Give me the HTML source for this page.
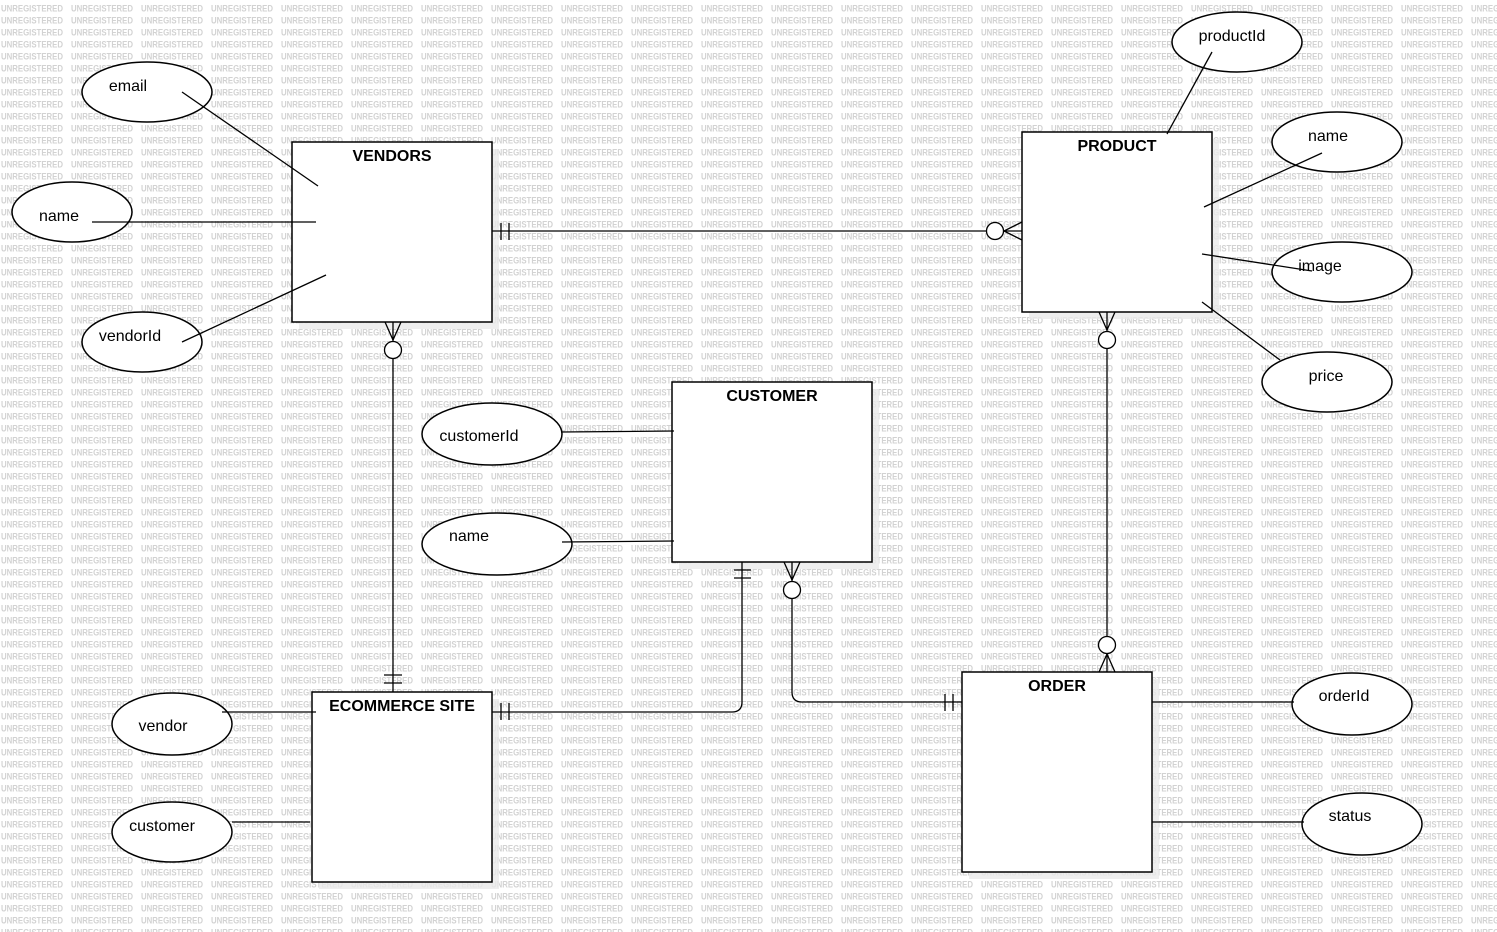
<!DOCTYPE html>
<html><head><meta charset="utf-8"><style>
html,body{margin:0;padding:0;background:#fff;}
svg{display:block;}
text{font-family:"Liberation Sans",sans-serif;}
</style></head><body>
<svg width="1497" height="932" viewBox="0 0 1497 932" xmlns="http://www.w3.org/2000/svg">
<defs>
<pattern id="wm" x="0" y="0" width="70" height="12" patternUnits="userSpaceOnUse">
<text x="1" y="11.5" font-size="9" font-weight="bold" fill="#d2d2d2" textLength="62" lengthAdjust="spacingAndGlyphs">UNREGISTERED</text>
</pattern>
</defs>
<rect width="1497" height="932" fill="url(#wm)"/>
<g fill="#eaeaea" opacity="0.8">
<rect x="299" y="149" width="200" height="180"/>
<rect x="1029" y="139" width="190" height="180"/>
<rect x="679" y="389" width="200" height="180"/>
<rect x="319" y="699" width="180" height="190"/>
<rect x="969" y="679" width="190" height="200"/>
</g>
<g fill="#fff" stroke="#000" stroke-width="1.5">
<rect x="292" y="142" width="200" height="180"/>
<rect x="1022" y="132" width="190" height="180"/>
<rect x="672" y="382" width="200" height="180"/>
<rect x="312" y="692" width="180" height="190"/>
<rect x="962" y="672" width="190" height="200"/>
<ellipse cx="147" cy="92" rx="65" ry="30"/>
<ellipse cx="72" cy="212" rx="60" ry="30"/>
<ellipse cx="142" cy="342" rx="60" ry="30"/>
<ellipse cx="1237" cy="42" rx="65" ry="30"/>
<ellipse cx="1337" cy="142" rx="65" ry="30"/>
<ellipse cx="1342" cy="272" rx="70" ry="30"/>
<ellipse cx="1327" cy="382" rx="65" ry="30"/>
<ellipse cx="492" cy="434" rx="70" ry="31"/>
<ellipse cx="497" cy="544" rx="75" ry="31"/>
<ellipse cx="172" cy="724" rx="60" ry="31"/>
<ellipse cx="172" cy="832" rx="60" ry="30"/>
<ellipse cx="1352" cy="704" rx="60" ry="31"/>
<ellipse cx="1362" cy="824" rx="60" ry="31"/>
</g>
<g stroke="#000" stroke-width="1.3" fill="none">
<line x1="182" y1="92" x2="318" y2="186"/>
<line x1="92" y1="222" x2="316" y2="222"/>
<line x1="182" y1="342" x2="326" y2="275"/>
<line x1="1212" y1="52" x2="1167" y2="134"/>
<line x1="1322" y1="153" x2="1204" y2="207"/>
<line x1="1202" y1="254" x2="1312" y2="271"/>
<line x1="1202" y1="302" x2="1280" y2="360"/>
<line x1="562" y1="432" x2="674" y2="431"/>
<line x1="562" y1="542" x2="674" y2="541"/>
<line x1="222" y1="712" x2="316" y2="712"/>
<line x1="232" y1="822" x2="310" y2="822"/>
<line x1="1152" y1="702" x2="1294" y2="702"/>
<line x1="1152" y1="822" x2="1304" y2="822"/>
<line x1="492" y1="231" x2="986" y2="231"/>
<line x1="1004" y1="231" x2="1022" y2="231"/>
<line x1="501" y1="223" x2="501" y2="240"/><line x1="509" y1="223" x2="509" y2="240"/>
<circle cx="995" cy="231" r="8.5" fill="#fff"/>
<line x1="1004" y1="231" x2="1022" y2="222"/><line x1="1004" y1="231" x2="1022" y2="240"/>
<line x1="393" y1="322" x2="393" y2="341"/>
<line x1="393" y1="359" x2="393" y2="692"/>
<line x1="385" y1="322" x2="393" y2="340"/><line x1="401" y1="322" x2="393" y2="340"/>
<circle cx="393" cy="350" r="8.5" fill="#fff"/>
<line x1="384" y1="675" x2="402" y2="675"/><line x1="384" y1="683" x2="402" y2="683"/>
<line x1="1107" y1="312" x2="1107" y2="331"/>
<line x1="1107" y1="349" x2="1107" y2="636"/>
<line x1="1107" y1="654" x2="1107" y2="672"/>
<line x1="1099" y1="312" x2="1107" y2="330"/><line x1="1115" y1="312" x2="1107" y2="330"/>
<circle cx="1107" cy="340" r="8.5" fill="#fff"/>
<circle cx="1107" cy="645" r="8.5" fill="#fff"/>
<line x1="1107" y1="654" x2="1099" y2="672"/><line x1="1107" y1="654" x2="1115" y2="672"/>
<path d="M742 562 V702 Q742 712 732 712 H492"/>
<line x1="734" y1="570" x2="751" y2="570"/><line x1="734" y1="578" x2="751" y2="578"/>
<line x1="501" y1="703" x2="501" y2="720"/><line x1="509" y1="703" x2="509" y2="720"/>
<line x1="792" y1="562" x2="792" y2="581"/>
<path d="M792 599 V692 Q792 702 802 702 H962"/>
<line x1="784" y1="562" x2="792" y2="580"/><line x1="800" y1="562" x2="792" y2="580"/>
<circle cx="792" cy="590" r="8.5" fill="#fff"/>
<line x1="945" y1="694" x2="945" y2="711"/><line x1="953" y1="694" x2="953" y2="711"/>
</g>
<g font-size="16" font-weight="bold" text-anchor="middle" fill="#000">
<text x="392" y="161">VENDORS</text>
<text x="1117" y="151">PRODUCT</text>
<text x="772" y="401">CUSTOMER</text>
<text x="402" y="711">ECOMMERCE SITE</text>
<text x="1057" y="691">ORDER</text>
</g>
<g font-size="16" text-anchor="middle" fill="#000">
<text x="128" y="91">email</text>
<text x="59" y="221">name</text>
<text x="130" y="341">vendorId</text>
<text x="1232" y="41">productId</text>
<text x="1328" y="141">name</text>
<text x="1320" y="271">image</text>
<text x="1326" y="381">price</text>
<text x="479" y="441">customerId</text>
<text x="469" y="541">name</text>
<text x="163" y="731">vendor</text>
<text x="162" y="831">customer</text>
<text x="1344" y="701">orderId</text>
<text x="1350" y="821">status</text>
</g>
</svg>
</body></html>
